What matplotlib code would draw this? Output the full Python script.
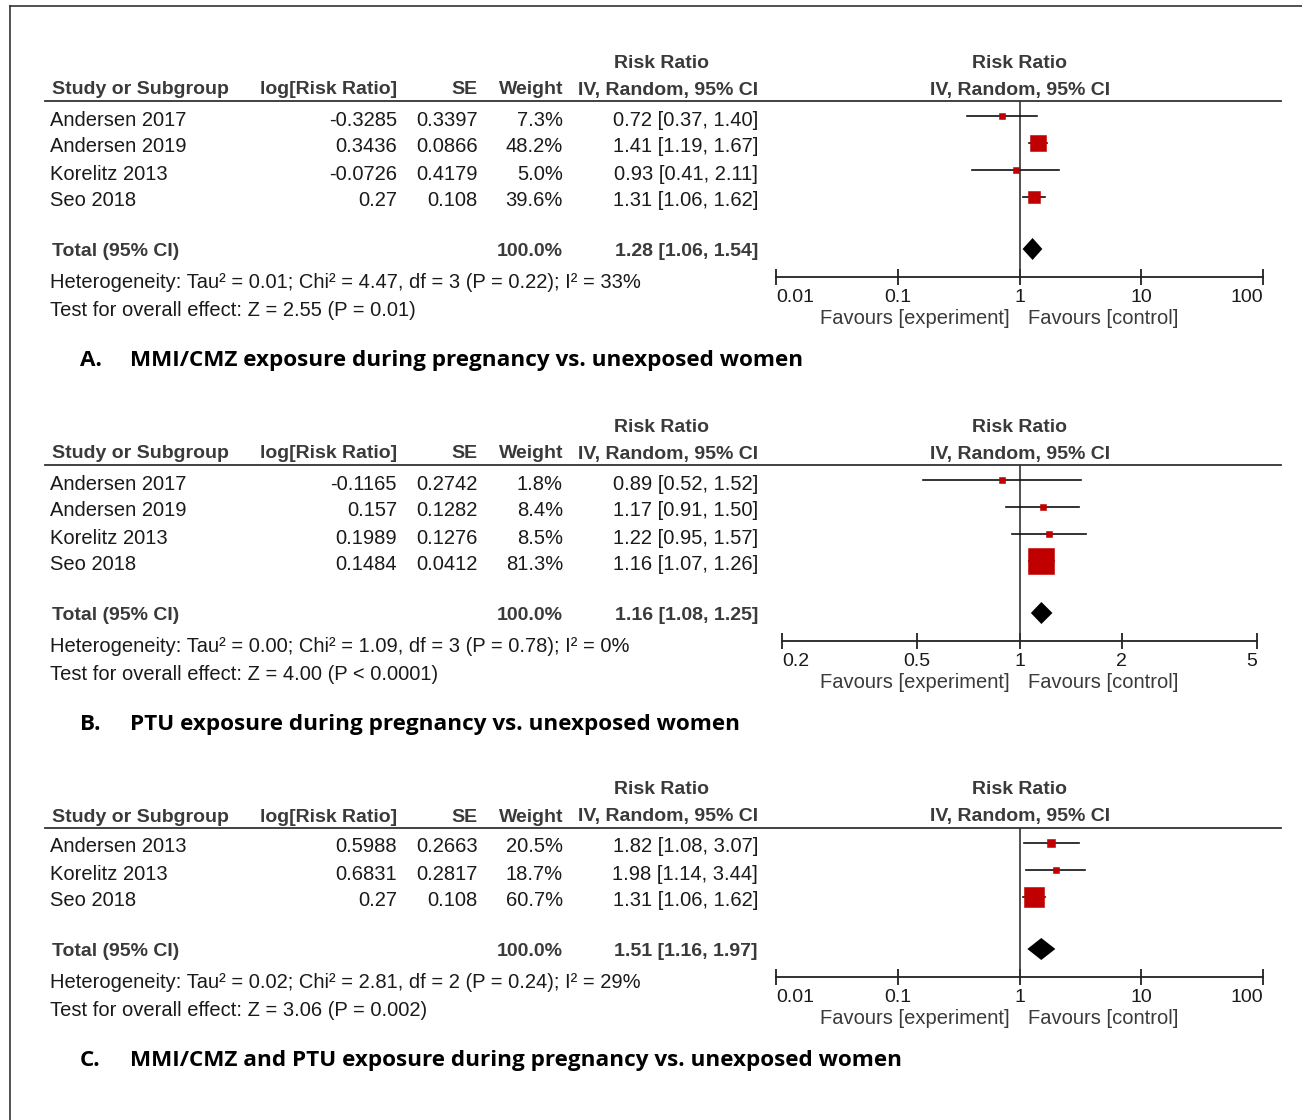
import numpy as np
import matplotlib
matplotlib.use("Agg")
from matplotlib import pyplot as plt

# Panel A data
a_studies = ["Andersen 2017", "Andersen 2019", "Korelitz 2013", "Seo 2018"]
a_logrr = ["-0.3285", "0.3436", "-0.0726", "0.27"]
a_se = ["0.3397", "0.0866", "0.4179", "0.108"]
a_weight = [7.3, 48.2, 5.0, 39.6]
a_rr = [0.72, 1.41, 0.93, 1.31]
a_lo = [0.37, 1.19, 0.41, 1.06]
a_hi = [1.40, 1.67, 2.11, 1.62]
a_total = [1.28, 1.06, 1.54]
a_het = "Heterogeneity: Tau² = 0.01; Chi² = 4.47, df = 3 (P = 0.22); I² = 33%"
a_test = "Test for overall effect: Z = 2.55 (P = 0.01)"
a_ticks = [0.01, 0.1, 1, 10, 100]
a_ticklabels = ["0.01", "0.1", "1", "10", "100"]
a_title = "MMI/CMZ exposure during pregnancy vs. unexposed women"

# Panel B data
b_studies = ["Andersen 2017", "Andersen 2019", "Korelitz 2013", "Seo 2018"]
b_logrr = ["-0.1165", "0.157", "0.1989", "0.1484"]
b_se = ["0.2742", "0.1282", "0.1276", "0.0412"]
b_weight = [1.8, 8.4, 8.5, 81.3]
b_rr = [0.89, 1.17, 1.22, 1.16]
b_lo = [0.52, 0.91, 0.95, 1.07]
b_hi = [1.52, 1.50, 1.57, 1.26]
b_total = [1.16, 1.08, 1.25]
b_het = "Heterogeneity: Tau² = 0.00; Chi² = 1.09, df = 3 (P = 0.78); I² = 0%"
b_test = "Test for overall effect: Z = 4.00 (P < 0.0001)"
b_ticks = [0.2, 0.5, 1, 2, 5]
b_ticklabels = ["0.2", "0.5", "1", "2", "5"]
b_title = "PTU exposure during pregnancy vs. unexposed women"

# Panel C data
c_studies = ["Andersen 2013", "Korelitz 2013", "Seo 2018"]
c_logrr = ["0.5988", "0.6831", "0.27"]
c_se = ["0.2663", "0.2817", "0.108"]
c_weight = [20.5, 18.7, 60.7]
c_rr = [1.82, 1.98, 1.31]
c_lo = [1.08, 1.14, 1.06]
c_hi = [3.07, 3.44, 1.62]
c_total = [1.51, 1.16, 1.97]
c_het = "Heterogeneity: Tau² = 0.02; Chi² = 2.81, df = 2 (P = 0.24); I² = 29%"
c_test = "Test for overall effect: Z = 3.06 (P = 0.002)"
c_ticks = [0.01, 0.1, 1, 10, 100]
c_ticklabels = ["0.01", "0.1", "1", "10", "100"]
c_title = "MMI/CMZ and PTU exposure during pregnancy vs. unexposed women"

W, H = 1302, 1120
plt.rcParams['font.family'] = ['Liberation Sans', 'DejaVu Sans']
fig = plt.figure(figsize=(W/100, H/100), dpi=100)
bg = fig.add_axes([0, 0, 1, 1])
bg.set_xlim(0, W)
bg.set_ylim(H, 0)
bg.axis("off")

HEAD = "#3a3a3a"
BODY = "#1a1a1a"
RED = "#c00000"
FS = 14.5
HFS = 14
TFS = 16.2

# frame
bg.plot([10, 10], [6, H], color="#333333", lw=1.2)
bg.plot([10, W], [6, 6], color="#333333", lw=1.2)


def panel(line_y, letter, studies, logrr, se, weight, rr, lo, hi, total,
          het, test, ticks, ticklabels, title, x_left, x_right):
    # headers
    for xc in (661, 1020):
        bg.text(xc, line_y - 38, "Risk Ratio", ha="center", va="center",
                fontsize=HFS, fontweight="bold", color=HEAD)
    hy = line_y - 11
    bg.text(52, hy, "Study or Subgroup", ha="left", va="center",
            fontsize=HFS, fontweight="bold", color=HEAD)
    bg.text(397, hy, "log[Risk Ratio]", ha="right", va="center",
            fontsize=HFS, fontweight="bold", color=HEAD)
    bg.text(478, hy, "SE", ha="right", va="center",
            fontsize=HFS, fontweight="bold", color=HEAD)
    bg.text(563, hy, "Weight", ha="right", va="center",
            fontsize=HFS, fontweight="bold", color=HEAD)
    bg.text(758, hy, "IV, Random, 95% CI", ha="right", va="center",
            fontsize=HFS, fontweight="bold", color=HEAD)
    bg.text(1020, hy, "IV, Random, 95% CI", ha="center", va="center",
            fontsize=HFS, fontweight="bold", color=HEAD)
    bg.plot([45, 1281], [line_y, line_y], color="#333333", lw=1.3)

    rows_y = line_y + 15 + 27*np.arange(len(studies))
    total_y = rows_y[-1] + 52
    axis_y = total_y + 28

    for i, y in enumerate(rows_y):
        ty = y + 4
        bg.text(50, ty, studies[i], ha="left", va="center", fontsize=FS, color=BODY)
        bg.text(397, ty, logrr[i], ha="right", va="center", fontsize=FS, color=BODY)
        bg.text(478, ty, se[i], ha="right", va="center", fontsize=FS, color=BODY)
        bg.text(563, ty, "%.1f%%" % weight[i], ha="right", va="center", fontsize=FS, color=BODY)
        bg.text(758, ty, "%.2f [%.2f, %.2f]" % (rr[i], lo[i], hi[i]),
                ha="right", va="center", fontsize=FS, color=BODY)

    bg.text(52, total_y + 3, "Total (95% CI)", ha="left", va="center",
            fontsize=HFS, fontweight="bold", color=HEAD)
    bg.text(563, total_y + 3, "100.0%", ha="right", va="center",
            fontsize=HFS, fontweight="bold", color=HEAD)
    bg.text(758, total_y + 3, "%.2f [%.2f, %.2f]" % tuple(total), ha="right", va="center",
            fontsize=HFS, fontweight="bold", color=HEAD)
    bg.text(50, total_y + 33, het, ha="left", va="center", fontsize=FS, color=BODY)
    bg.text(50, total_y + 61, test, ha="left", va="center", fontsize=FS, color=BODY)

    bg.text(1010, axis_y + 42, "Favours [experiment]", ha="right", va="center",
            fontsize=FS, color=HEAD)
    bg.text(1028, axis_y + 42, "Favours [control]", ha="left", va="center",
            fontsize=FS, color=HEAD)

    bg.text(80, total_y + 117, letter, ha="left", va="baseline", fontsize=TFS,
            fontweight="bold", family="Open Sans", color="black")
    bg.text(130, total_y + 117, title, ha="left", va="baseline", fontsize=TFS,
            fontweight="bold", family="Open Sans", color="black")

    # forest plot
    ax = fig.add_axes([x_left/W, 1 - axis_y/H, (x_right - x_left)/W, (axis_y - line_y)/H])
    ax.set_xscale("log")
    ax.set_xlim(ticks[0], ticks[-1])
    ax.set_ylim(axis_y, line_y)
    ax.patch.set_alpha(0)
    for s in ("top", "left", "right"):
        ax.spines[s].set_visible(False)
    ax.spines["bottom"].set_linewidth(1.3)
    ax.spines["bottom"].set_color("#222222")
    ax.axvline(1, color="#333333", lw=1.2)
    ax.set_yticks([])
    ax.set_xticks(ticks)
    ax.set_xticks([], minor=True)
    ax.set_xticklabels(ticklabels)
    ax.tick_params(axis="x", direction="inout", length=12, width=1.3, pad=3,
                   labelsize=14, labelcolor=BODY, color="#222222")
    labels = ax.get_xticklabels()
    labels[0].set_ha("left")
    labels[-1].set_ha("right")

    for i, y in enumerate(rows_y):
        ax.plot([lo[i], hi[i]], [y, y], color="#111111", lw=1.2, clip_on=False)
        side = max(5.5, 1 + 0.3*weight[i]) * 72/100
        ax.plot(rr[i], y, marker="s", ms=side, color=RED, mec=RED, mew=0.4, clip_on=False)

    est, tl, th = total
    ax.fill([tl, est, th, est], [total_y, total_y - 11, total_y, total_y + 11],
            color="black", lw=0, clip_on=False)


panel(101, "A.", a_studies, a_logrr, a_se, a_weight, a_rr, a_lo, a_hi, a_total,
      a_het, a_test, a_ticks, a_ticklabels, a_title, 776, 1263)
panel(465, "B.", b_studies, b_logrr, b_se, b_weight, b_rr, b_lo, b_hi, b_total,
      b_het, b_test, b_ticks, b_ticklabels, b_title, 782, 1257)
panel(828, "C.", c_studies, c_logrr, c_se, c_weight, c_rr, c_lo, c_hi, c_total,
      c_het, c_test, c_ticks, c_ticklabels, c_title, 776, 1263)

fig.savefig("out.png", dpi=100)
